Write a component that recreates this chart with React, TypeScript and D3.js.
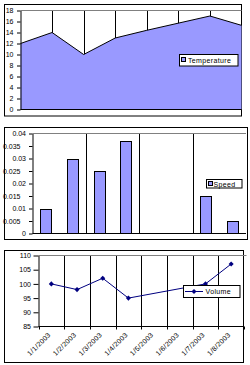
import React, { useEffect, useRef } from "react";
import * as d3 from "d3";

// data
const dates = ["1/1/2003", "1/2/2003", "1/3/2003", "1/4/2003", "1/5/2003", "1/6/2003", "1/7/2003", "1/8/2003"];
const temperature = [12, 14, 10, 13, 14.4, 15.7, 17, 15.3];
const speed = [0.01, 0.03, 0.025, 0.037, null, null, 0.015, 0.005];
const volume = [100, 98, 102, 95, null, null, 100, 107];

const tempTicks = [0, 2, 4, 6, 8, 10, 12, 14, 16, 18];
const speedTicks = [0, 0.005, 0.01, 0.015, 0.02, 0.025, 0.03, 0.035, 0.04];
const speedTickLabels = ["0", "0.005", "0.01", "0.015", "0.02", "0.025", "0.03", "0.035", "0.04"];
const volumeTicks = [85, 90, 95, 100, 105, 110];

const FONT = "'Liberation Sans', Arial, sans-serif";
const FILL = "#9999FF";
const NAVY = "#000080";

function frame(svg, x, y, w, h) {
  svg
    .append("rect")
    .attr("x", x)
    .attr("y", y)
    .attr("width", w)
    .attr("height", h)
    .attr("fill", "#fff")
    .attr("stroke", "#000");
}

function yAxis(svg, y, ticks, labels, x0, size, pad) {
  const ax = d3
    .axisLeft(y)
    .tickValues(ticks)
    .tickFormat((d, i) => labels[i])
    .tickSize(size)
    .tickSizeOuter(0)
    .tickPadding(pad);
  const g = svg.append("g").attr("transform", `translate(${x0},0)`).call(ax);
  g.attr("font-family", FONT).attr("font-size", 7);
  g.select(".domain").attr("stroke", "#000");
  g.selectAll("line").attr("stroke", "#000");
  g.selectAll("text").attr("fill", "#000");
  return g;
}

function legendBox(svg, x, y, w, h) {
  svg
    .append("rect")
    .attr("x", x)
    .attr("y", y)
    .attr("width", w)
    .attr("height", h)
    .attr("fill", "#fff")
    .attr("stroke", "#000");
}

function legendText(svg, x, y, label) {
  svg
    .append("text")
    .attr("x", x)
    .attr("y", y)
    .attr("font-family", FONT)
    .attr("font-size", 7)
    .attr("letter-spacing", 0.35)
    .attr("fill", "#000")
    .text(label);
}

function drawTemperature(svg) {
  frame(svg, 4.5, 4.5, 237, 111.5);
  const x = d3
    .scalePoint()
    .domain(d3.range(temperature.length))
    .range([20.5, 241.5]);
  const y = d3.scaleLinear().domain([0, 18]).range([109.5, 10.5]);

  svg
    .append("g")
    .selectAll("line")
    .data(d3.range(1, temperature.length - 1))
    .join("line")
    .attr("x1", d => Math.round(x(d)) + 0.5)
    .attr("x2", d => Math.round(x(d)) + 0.5)
    .attr("y1", y(18))
    .attr("y2", y(0))
    .attr("stroke", "#000");

  svg
    .append("line")
    .attr("x1", 20.5)
    .attr("x2", 241.5)
    .attr("y1", y(18))
    .attr("y2", y(18))
    .attr("stroke", "#808080");

  const area = d3
    .area()
    .x((d, i) => x(i))
    .y0(y(0))
    .y1(d => y(d));
  svg.append("path").datum(temperature).attr("d", area).attr("fill", FILL);

  const line = d3
    .line()
    .x((d, i) => x(i))
    .y(d => y(d));
  svg
    .append("path")
    .datum(temperature)
    .attr("d", line)
    .attr("fill", "none")
    .attr("stroke", "#000");

  svg
    .append("line")
    .attr("x1", 20.5)
    .attr("x2", 241.5)
    .attr("y1", y(0))
    .attr("y2", y(0))
    .attr("stroke", "#000");

  yAxis(svg, y, tempTicks, tempTicks.map(String), 20.5, 3.5, 3.5);

  legendBox(svg, 179.5, 54.5, 58.5, 11.5);
  svg
    .append("rect")
    .attr("x", 181.5)
    .attr("y", 57.5)
    .attr("width", 4)
    .attr("height", 4)
    .attr("fill", FILL)
    .attr("stroke", "#000");
  legendText(svg, 188, 63, "Temperature");
}

function drawSpeed(svg) {
  frame(svg, 4.5, 127.5, 243, 112);
  const x = d3
    .scaleBand()
    .domain(d3.range(speed.length))
    .range([32.5, 246]);
  const y = d3.scaleLinear().domain([0, 0.04]).range([233.5, 133.5]);

  svg
    .append("g")
    .selectAll("line")
    .data([2, 4, 6])
    .join("line")
    .attr("x1", d => Math.round(x(d)) + 0.5)
    .attr("x2", d => Math.round(x(d)) + 0.5)
    .attr("y1", y(0.04))
    .attr("y2", y(0))
    .attr("stroke", "#000");

  svg
    .append("line")
    .attr("x1", 32.5)
    .attr("x2", 246)
    .attr("y1", y(0.04))
    .attr("y2", y(0.04))
    .attr("stroke", "#808080");

  const bw = Math.round(x.bandwidth() * 0.42);
  svg
    .append("g")
    .selectAll("rect")
    .data(speed.map((v, i) => ({ v, i })).filter(d => d.v != null))
    .join("rect")
    .attr("x", d => Math.round(x(d.i) + (x.bandwidth() - bw) / 2) + 0.5)
    .attr("y", d => Math.round(y(d.v)) + 0.5)
    .attr("width", bw)
    .attr("height", d => y(0) - Math.round(y(d.v)) - 0.5)
    .attr("fill", FILL)
    .attr("stroke", "#000");

  svg
    .append("line")
    .attr("x1", 32.5)
    .attr("x2", 246)
    .attr("y1", y(0))
    .attr("y2", y(0))
    .attr("stroke", "#000");

  const g = yAxis(svg, y, speedTicks, speedTickLabels, 32.5, 3.5, 3);
  g.selectAll("text").attr("x", (d, i) => (speedTickLabels[i].length > 4 ? -12 : -6.5));

  legendBox(svg, 206.5, 179.5, 35.5, 8.5);
  svg
    .append("rect")
    .attr("x", 208.5)
    .attr("y", 181.5)
    .attr("width", 4)
    .attr("height", 4)
    .attr("fill", FILL)
    .attr("stroke", "#000");
  legendText(svg, 213.5, 186.5, "Speed");
}

function drawVolume(svg) {
  frame(svg, 4.5, 250.5, 239, 112);
  const x = d3
    .scaleBand()
    .domain(d3.range(volume.length))
    .range([38.5, 244]);
  const y = d3.scaleLinear().domain([85, 110]).range([326.5, 255.5]);
  const cx = i => x(i) + x.bandwidth() / 2;

  svg
    .append("g")
    .selectAll("line")
    .data(d3.range(1, volume.length))
    .join("line")
    .attr("x1", d => Math.round(x(d)) + 0.5)
    .attr("x2", d => Math.round(x(d)) + 0.5)
    .attr("y1", y(110))
    .attr("y2", y(85))
    .attr("stroke", "#000");

  svg
    .append("g")
    .selectAll("line")
    .data(d3.range(0, volume.length + 1))
    .join("line")
    .attr("x1", d => Math.round(x.range()[0] + d * x.step()) + 0.5)
    .attr("x2", d => Math.round(x.range()[0] + d * x.step()) + 0.5)
    .attr("y1", y(85))
    .attr("y2", y(85) + 3)
    .attr("stroke", "#000");

  svg
    .append("line")
    .attr("x1", 38.5)
    .attr("x2", 246.5)
    .attr("y1", y(110))
    .attr("y2", y(110))
    .attr("stroke", "#808080");

  svg
    .append("line")
    .attr("x1", 38.5)
    .attr("x2", 244)
    .attr("y1", y(85))
    .attr("y2", y(85))
    .attr("stroke", "#000");

  const pts = volume.map((v, i) => ({ v, i })).filter(d => d.v != null);
  const line = d3
    .line()
    .x(d => cx(d.i))
    .y(d => y(d.v));
  svg
    .append("path")
    .datum(pts)
    .attr("d", line)
    .attr("fill", "none")
    .attr("stroke", NAVY);

  const marker = d3.symbol(d3.symbolSquare, 13);
  svg
    .append("g")
    .selectAll("path")
    .data(pts)
    .join("path")
    .attr("d", marker)
    .attr("transform", d => `translate(${cx(d.i)},${y(d.v)}) rotate(45)`)
    .attr("fill", NAVY);

  yAxis(svg, y, volumeTicks, volumeTicks.map(String), 38.5, 5, 2.5);

  svg
    .append("g")
    .attr("font-family", FONT)
    .attr("font-size", 7)
    .selectAll("text")
    .data(dates)
    .join("text")
    .attr("transform", (d, i) => `translate(${cx(i) - 2},${y(85) + 7}) rotate(-45)`)
    .attr("text-anchor", "end")
    .attr("dy", "0.35em")
    .attr("letter-spacing", 0.3)
    .attr("fill", "#000")
    .text(d => d);

  legendBox(svg, 183.5, 285.5, 56.5, 12);
  svg
    .append("line")
    .attr("x1", 185)
    .attr("x2", 203)
    .attr("y1", 291.5)
    .attr("y2", 291.5)
    .attr("stroke", NAVY);
  svg
    .append("path")
    .attr("d", marker)
    .attr("transform", "translate(194,291.5) rotate(45)")
    .attr("fill", NAVY);
  legendText(svg, 205.5, 294, "Volume");
}

export default function App() {
  const ref = useRef<SVGSVGElement>(null);

  useEffect(() => {
    const svg = d3.select(ref.current);
    svg.selectAll("*").remove();
    drawTemperature(svg);
    drawSpeed(svg);
    drawVolume(svg);
  }, []);

  return (
    <div style={{ position: "absolute", left: 0, top: 0 }}>
      <svg ref={ref} width={250} height={365} style={{ display: "block", background: "#fff" }} />
    </div>
  );
}
